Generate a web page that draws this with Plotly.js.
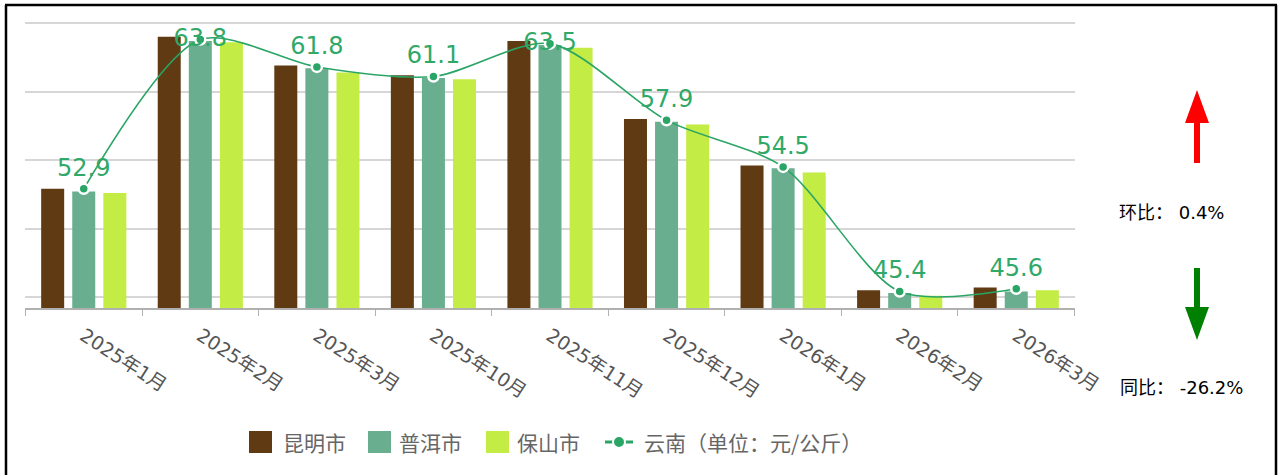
<!DOCTYPE html>
<html>
<head>
<meta charset="utf-8">
<script src="https://cdn.plot.ly/plotly-3.0.1.min.js"></script>
<style>
  html, body { margin: 0; padding: 0; background: #fff; }
  #chart { width: 1279px; height: 475px; }
</style>
</head>
<body>
<div id="chart"></div>
<script>
// ---- data ----
const categories = ['2025年1月', '2025年2月', '2025年3月', '2025年10月', '2025年11月', '2025年12月', '2026年1月', '2026年2月', '2026年3月'];
const kunming = [52.9, 64.0, 61.9, 61.2, 63.7, 58.0, 54.6, 45.5, 45.7];
const puer    = [52.7, 63.7, 61.7, 61.0, 63.4, 57.8, 54.4, 45.3, 45.4];
const baoshan = [52.6, 63.6, 61.4, 60.9, 63.2, 57.6, 54.1, 45.1, 45.5];
const yunnan  = [52.9, 63.8, 61.8, 61.1, 63.5, 57.9, 54.5, 45.4, 45.6];
const seriesNames = ['昆明市', '普洱市', '保山市', '云南（单位：元/公斤）'];
const momText = '环比： 0.4%';
const yoyText = '同比： -26.2%';

// ---- styles ----
const colors = ['#5f3a13', '#69ae8e', '#c3ec45', '#2aa566'];
const W = 1279, H = 475;
const L = 25, R = 1075, T = 19, B = 308;
const Y_MAX = 65.3;
const px = v => (v - L) / (R - L);
const py = v => (B - v) / (B - T);

const barTrace = (y, i) => ({
  type: 'bar', x: categories, y: y, name: seriesNames[i],
  marker: { color: colors[i], line: { width: 0 } },
  hoverinfo: 'skip'
});

// labels that would leave the chart top are kept inside it (pushed onto the point)
const labelPos = yunnan.map(v => (v > Y_MAX - 2 ? 'middle center' : 'top center'));

const traces = [
  barTrace(kunming, 0),
  barTrace(puer, 1),
  barTrace(baoshan, 2),
  {
    type: 'scatter', mode: 'lines+markers+text', x: categories, y: yunnan,
    name: seriesNames[3],
    line: { color: colors[3], width: 1.6, shape: 'spline', smoothing: 0.8 },
    marker: { color: colors[3], size: 10, line: { color: '#ffffff', width: 2.5 } },
    text: yunnan.map(v => v.toFixed(1)),
    textposition: labelPos,
    textfont: { family: 'DejaVu Sans, sans-serif', size: 24, color: '#2fa868' },
    cliponaxis: false,
    hoverinfo: 'skip'
  }
];

const shapes = [];
const annotations = [];

// frame
shapes.push({ type: 'line', xref: 'paper', yref: 'paper', x0: px(6), x1: px(6), y0: py(5), y1: py(490), line: { color: '#000', width: 2.5 } });
shapes.push({ type: 'line', xref: 'paper', yref: 'paper', x0: px(5), x1: px(1277), y0: py(5), y1: py(5), line: { color: '#000', width: 2.5 } });
shapes.push({ type: 'line', xref: 'paper', yref: 'paper', x0: px(1276), x1: px(1276), y0: py(5), y1: py(490), line: { color: '#000', width: 2.5 } });

// custom legend
const legendFont = { family: 'Noto Sans CJK SC, sans-serif', size: 21, color: '#666666' };
const legY = 442;
const legendRects = [[249, 272, 281], [368, 391, 397], [486, 509, 515]];
legendRects.forEach((r, i) => {
  shapes.push({ type: 'rect', xref: 'paper', yref: 'paper', x0: px(r[0]), x1: px(r[1]), y0: py(legY - 11), y1: py(legY + 11), fillcolor: colors[i], line: { width: 0 } });
  annotations.push({ xref: 'paper', yref: 'paper', x: px(r[2]), y: py(legY), xanchor: 'left', yanchor: 'middle', text: seriesNames[i], showarrow: false, font: legendFont });
});
shapes.push({ type: 'line', xref: 'paper', yref: 'paper', x0: px(605), x1: px(633), y0: py(legY), y1: py(legY), line: { color: colors[3], width: 3 } });
shapes.push({ type: 'circle', xref: 'paper', yref: 'paper', x0: px(613), x1: px(625), y0: py(legY - 6), y1: py(legY + 6), fillcolor: colors[3], line: { color: '#ffffff', width: 2 } });
annotations.push({ xref: 'paper', yref: 'paper', x: px(642), y: py(legY), xanchor: 'left', yanchor: 'middle', text: seriesNames[3], showarrow: false, font: legendFont });

// right-side indicators
const path = pts => 'M' + pts.map(p => px(p[0]) + ',' + py(p[1])).join(' L') + ' Z';
shapes.push({ type: 'rect', xref: 'paper', yref: 'paper', x0: px(1194), x1: px(1200), y0: py(118), y1: py(163), fillcolor: '#ff0000', line: { width: 0 } });
shapes.push({ type: 'path', xref: 'paper', yref: 'paper', path: path([[1197, 90], [1185, 123], [1209, 123]]), fillcolor: '#ff0000', line: { width: 0 } });
shapes.push({ type: 'rect', xref: 'paper', yref: 'paper', x0: px(1194), x1: px(1200), y0: py(268), y1: py(312), fillcolor: '#008000', line: { width: 0 } });
shapes.push({ type: 'path', xref: 'paper', yref: 'paper', path: path([[1185, 307], [1209, 307], [1197, 340]]), fillcolor: '#008000', line: { width: 0 } });
const sideFont = { family: 'DejaVu Sans, Noto Sans CJK SC, sans-serif', size: 18, color: '#000000' };
annotations.push({ xref: 'paper', yref: 'paper', x: px(1117), y: py(212), xanchor: 'left', yanchor: 'middle', text: momText, showarrow: false, font: sideFont });
annotations.push({ xref: 'paper', yref: 'paper', x: px(1118), y: py(387), xanchor: 'left', yanchor: 'middle', text: yoyText, showarrow: false, font: sideFont });

const layout = {
  width: W, height: H,
  margin: { l: L, r: W - R, t: T, b: H - B, pad: 0 },
  paper_bgcolor: '#ffffff', plot_bgcolor: '#ffffff',
  showlegend: false,
  barmode: 'group', bargap: 0.2, bargroupgap: 0.26,
  xaxis: {
    type: 'category', showgrid: false, zeroline: false,
    showline: true, linecolor: '#b0b0b0', linewidth: 1.5,
    ticks: 'outside', tickson: 'boundaries', ticklen: 6, tickcolor: '#b0b0b0', tickwidth: 1,
    tickangle: 33, ticklabelstandoff: 8,
    tickfont: { family: 'DejaVu Sans, Noto Sans CJK SC, sans-serif', size: 19, color: '#555555' },
    fixedrange: true
  },
  yaxis: {
    range: [44.2, Y_MAX], tick0: 45, dtick: 5,
    showticklabels: false, ticks: '', zeroline: false, showline: false,
    showgrid: true, gridcolor: '#d6d6d6', gridwidth: 2,
    fixedrange: true
  },
  shapes: shapes,
  annotations: annotations,
  font: { family: 'Noto Sans CJK SC, sans-serif' }
};

Plotly.newPlot('chart', traces, layout, { staticPlot: true, displayModeBar: false });
</script>
</body>
</html>
